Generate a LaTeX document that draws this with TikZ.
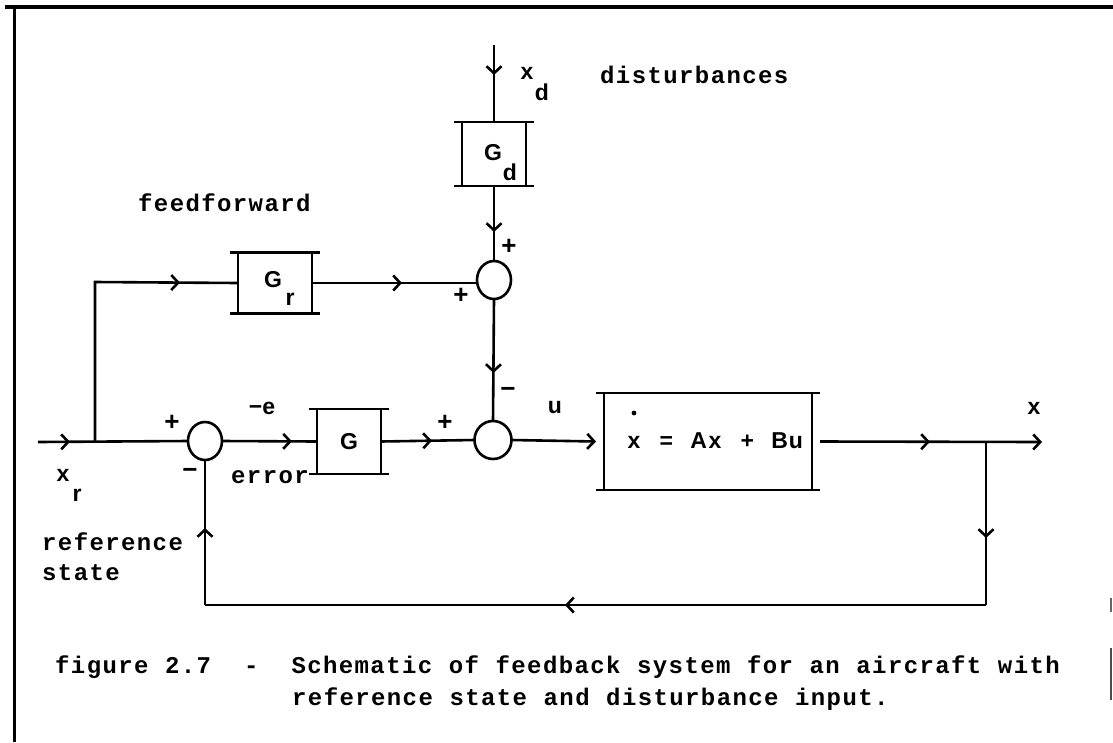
\documentclass[tikz,border=0pt]{standalone}
\usepackage{fontspec}
\usetikzlibrary{shapes.geometric,arrows.meta,decorations.markings}
\newfontfamily\capfont[LetterSpace=5.8, WordSpace=1.05]{Liberation Mono}
\newfontfamily\labfont{Liberation Sans}
\newcommand\cc[1]{\makebox[16.2pt]{#1}}
\newcommand\drawbars[1]{%
  \draw[wire] ([xshift=-8pt]#1.north west) -- ([xshift=8pt]#1.north east);
  \draw[wire] ([xshift=-8pt]#1.south west) -- ([xshift=8pt]#1.south east);
  \draw[wire] (#1.north west) -- (#1.south west);
  \draw[wire] (#1.north east) -- (#1.south east);}
\tikzset{
  wire/.style={line width=2.6pt},
  blockbox/.style={draw=none, inner sep=0pt, outer sep=0pt},
  sumj/.style={ellipse, draw, line width=2.6pt, minimum width=34pt, minimum height=38pt, inner sep=0pt, outer sep=0pt},
  lab/.style={font=\labfont\bfseries\fontsize{23}{23}\selectfont, inner sep=0pt},
  sgn/.style={font=\labfont\bfseries\fontsize{26}{26}\selectfont, inner sep=0pt},
  captxt/.style={font=\capfont\bfseries\fontsize{24}{26}\selectfont, inner sep=0pt, anchor=west},
  arrowat/.style={postaction={decorate,decoration={markings,mark=at position #1 with {\arrow{Straight Barb[length=7pt,width=15pt]}}}}},
  endarrow/.style={-{Straight Barb[length=7pt,width=15pt]}}
}
\begin{document}
\begin{tikzpicture}[x=1pt,y=-1pt]
\useasboundingbox (0,0) rectangle (1113,742);
% frame
\draw[line width=3.5pt] (5,7) -- (1113,7);
\draw[line width=3pt] (14,7) -- (14,742);
\draw[line width=2pt, black!60] (1111,598) -- (1111,612);
\draw[line width=2pt, black!70] (1111,648) -- (1111,700);

% nodes
\node[blockbox, minimum width=64pt, minimum height=64pt] (Gd) at (494,154) {};
\node[blockbox, minimum width=74pt, minimum height=61pt] (Gr) at (275,283) {};
\node[blockbox, minimum width=64pt, minimum height=65pt, lab] (G) at (349,441.5) {G};
\node[blockbox, minimum width=208pt, minimum height=97pt] (M) at (708,441.5) {};
\node[sumj] (s1) at (494,280) {};
\node[sumj] (s2) at (205,441) {};
\node[sumj, minimum width=37pt] (s3) at (493,440) {};
\drawbars{Gd}
\drawbars{Gr}
\drawbars{G}
\drawbars{M}

\coordinate (xdtop) at (494,45);
\coordinate (in) at (38,442);
\coordinate (br) at (95,442);
\coordinate (brup) at (95,282);
\coordinate (out) at (1042,442);
\coordinate (fb1) at (986,442);
\coordinate (fb2) at (986,605);
\coordinate (fb3) at (205,605);

% connectors
\draw[wire, arrowat=30pt] (xdtop) -- (Gd.north);
\draw[wire, arrowat=46pt] (Gd.south) -- (s1.north);
\draw[wire, arrowat=245pt] (br) -- (brup) -- (Gr.west);
\draw[wire, arrowat=90pt] (Gr.east) -- (Gr.east -| s1.west);
\draw[wire, arrowat=74pt] (s1.south) -- (s3.north);
\draw[wire, arrowat=32pt] (in) -- (s2.west);
\draw[wire, arrowat=70pt] (s2.east) -- (G.west);
\draw[wire, arrowat=51pt] (G.east) -- (s3.west);
\draw[wire, endarrow] (s3.east) -- ([xshift=-8pt]M.west);
\draw[wire, arrowat=110pt, endarrow] ([xshift=8pt]M.east) -- (out);
\draw[wire, arrowat=96pt] (fb1) -- (fb2);
\draw[wire, arrowat=421pt] (fb2) -- (fb3);
\draw[wire, arrowat=77pt] (fb3) -- (s2.south);

% labels
\node[lab] (lGd) at (493,153) {G};
\node[lab] (lGdd) at (510,172) {d};
\node[lab] (lGr) at (273,280) {G};
\node[lab] (lGrr) at (290,299) {r};
\node[lab] (lxd) at (527,73) {x};
\node[lab] (lxdd) at (542,92) {d};
\node[lab] (lxr) at (63,475) {x};
\node[lab] (lxrr) at (77,495) {r};
\node[sgn] (p1) at (509,247) {+};
\node[sgn] (p2) at (461,296) {+};
\node[sgn] (p3) at (172,423) {+};
\node[sgn] (m3) at (190,473) {−};
\node[sgn] (p4) at (445,423) {+};
\node[sgn] (m4) at (508,392) {−};
\node[lab] (le) at (262,408) {−e};
\node[lab] (lu) at (555,408) {u};
\node[lab] (lx) at (1034,408) {x};
\node[lab] (eq) at (715,441) {\cc{x}\cc{}\cc{=}\cc{}\cc{A}\cc{x}\cc{}\cc{+}\cc{}\cc{B}\cc{u}};
\fill (634,413) circle (2.4pt);

\node[captxt] (tff) at (138,203) {feedforward};
\node[captxt] (tdist) at (600,75) {disturbances};
\node[captxt, anchor=east] (terr) at (309,477) {error};
\node[captxt] (tref) at (42,542) {reference};
\node[captxt] (tstate) at (42,573) {state};
\node[captxt] (cap1) at (55,667) {figure 2.7\hspace{33pt}-\hspace{33pt}Schematic of feedback system for an aircraft with};
\node[captxt] (cap2) at (292,699) {reference state and disturbance input.};
\end{tikzpicture}
\end{document}
